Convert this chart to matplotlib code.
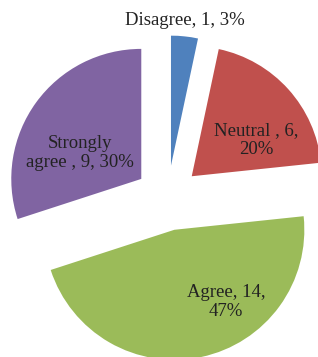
import matplotlib.pyplot as plt

labels = ['Disagree', 'Neutral ', 'Agree', 'Strongly\nagree ']
counts = [1, 6, 14, 9]
colors = ['#4F81BD', '#C0504D', '#9BBB59', '#8064A2']

# label anchor points (data units, pie radius = 1)
label_pos = [(0.134, 1.362), (0.680, 0.446), (0.449, -0.80), (-0.674, 0.346)]

total = sum(counts)

fig = plt.figure(figsize=(3.18, 3.57), dpi=100)
ax = fig.add_axes([0, 0, 1, 1])
ax.pie(counts, colors=colors, startangle=90, counterclock=False,
       explode=[0.25] * len(counts), radius=1.0,
       wedgeprops={'linewidth': 0})

for lab, n, (x, y) in zip(labels, counts, label_pos):
    pct = round(100 * n / total)
    if lab.startswith('Strongly'):
        txt = 'Strongly\nagree , %d, %d%%' % (n, pct)
    elif lab.startswith('Disagree'):
        txt = '%s, %d, %d%%' % (lab, n, pct)
    else:
        txt = '%s, %d,\n%d%%' % (lab, n, pct)
    ax.text(x, y, txt, ha='center', va='center', multialignment='center',
            family='Liberation Serif', fontsize=13.5, color='#222222',
            linespacing=1.1)

ax.set_xlim(-1.289, 1.157)
ax.set_ylim(-1.223, 1.523)
ax.set_aspect('auto')
ax.axis('off')

plt.savefig('out.png', dpi=100)
